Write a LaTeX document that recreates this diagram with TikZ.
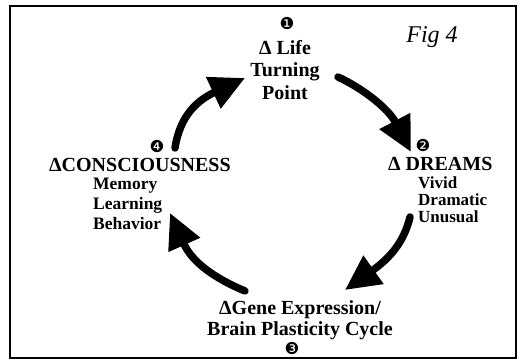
\documentclass[tikz,border=0pt]{standalone}
\usepackage{fontspec}
\setmainfont{Liberation Serif}
\newfontfamily\dingfont{DejaVu Sans}
\usetikzlibrary{arrows.meta}
\begin{document}
\begin{tikzpicture}[x=1pt,y=-1pt,
  head/.style={font=\fontsize{20}{22.5}\selectfont\bfseries, inner sep=0pt},
  sub/.style={font=\fontsize{17.5}{20}\selectfont\bfseries, inner sep=0pt, align=left},
  num/.style={font=\dingfont\fontsize{16.5}{16.5}\selectfont, inner sep=0pt},
  bigarrow/.style={line width=7.5pt, line cap=round, -{Triangle[length=35pt,width=33pt]}},
]
\useasboundingbox (0,0) rectangle (524,361);
\fill[white] (0,0) rectangle (524,361);
\draw[line width=1.4pt] (10,6) rectangle (516,358);

\node[font=\fontsize{24}{26}\selectfont\itshape, inner sep=0pt] (fig) at (432,37) {Fig 4};

% stage 1
\node[num] (n1) at (287,23) {❶};
\node[head, align=center] (life) at (285,70) {Δ Life\\Turning\\Point};

% stage 2
\node[num] (n2) at (423,145) {❷};
\node[head, anchor=west] (dreams) at (388,164) {Δ DREAMS};
\node[sub, anchor=north west, font=\fontsize{17}{17}\selectfont\bfseries] (dsub) at (418,177) {Vivid\\Dramatic\\Unusual};

% stage 3
\node[head, align=center, font=\fontsize{20}{21}\selectfont\bfseries] (gene) at (300,320) {ΔGene Expression/\\Brain Plasticity Cycle};
\node[num] (n3) at (292,348) {❸};

% stage 4
\node[num] (n4) at (157,146) {❹};
\node[head, anchor=west] (consc) at (49,165) {ΔCONSCIOUSNESS};
\node[sub, anchor=north west] (csub) at (93,178) {Memory\\Learning\\Behavior};

% arrow end points
\coordinate (a1s) at (175,148);
\coordinate (a1e) at (245,78);
\coordinate (a2s) at (338,77);
\coordinate (a2e) at (411,152);
\coordinate (a3s) at (410,217);
\coordinate (a3e) at (345,290);
\coordinate (a4s) at (245,291);
\coordinate (a4e) at (170,213);

\draw[bigarrow] (a1s) .. controls (180,115) and (198,100) .. (a1e);
\draw[bigarrow] (a2s) .. controls (362,88) and (388,108) .. (a2e);
\draw[bigarrow] (a3s) .. controls (404,242) and (390,258) .. (a3e);
\draw[bigarrow] (a4s) .. controls (214,278) and (192,262) .. (a4e);
\end{tikzpicture}
\end{document}
